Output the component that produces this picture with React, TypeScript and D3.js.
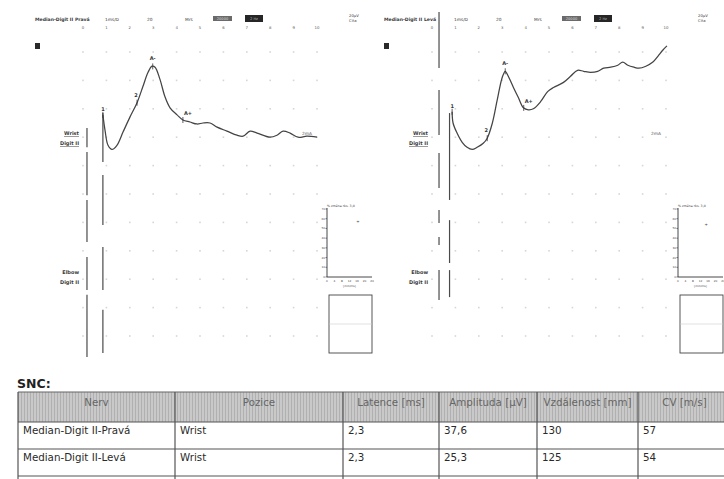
import React from "react";
import * as d3 from "d3";

// Sweep settings: 1 ms per division horizontally, 20 µV per division vertically
const timeTicks = d3.range(0, 11);
const gridRows = d3.range(0, 11);

// Wrist-stimulated sensory responses, [ms, µV]
const pravaWrist: [number, number][] = [
  [0.85, 15.7], [0.94, 5.0], [1.07, -5.7], [1.24, -8.6], [1.45, -5.7], [1.71, 3.6],
  [2.01, 14.3], [2.31, 24.3], [2.56, 35.7], [2.78, 45.7], [2.95, 50.0], [3.08, 49.3],
  [3.29, 40.7], [3.5, 28.6], [3.72, 20.7], [4.02, 15.7], [4.27, 12.1], [4.57, 10.7],
  [4.87, 9.3], [5.13, 10.0], [5.43, 10.0], [5.73, 7.1], [6.15, 4.3], [6.58, 1.4],
  [6.84, 0.7], [7.14, 4.3], [7.44, 2.9], [7.99, 0], [8.29, 1.4], [8.55, 4.3],
  [8.85, 2.9], [9.19, 0], [9.57, 0.7], [10.0, 0],
];
const levaWrist: [number, number][] = [
  [0.86, 17.9], [0.9, 10.0], [1.07, 2.9], [1.29, -3.6], [1.5, -7.1], [1.72, -8.6],
  [1.93, -7.1], [2.19, -4.3], [2.36, -0.7], [2.58, 10.0], [2.79, 26.4], [3.0, 42.1],
  [3.13, 46.4], [3.26, 42.9], [3.48, 35.0], [3.69, 27.9], [3.91, 20.7], [4.12, 19.3],
  [4.33, 20.0], [4.64, 25.0], [4.94, 32.1], [5.19, 35.0], [5.62, 38.6], [5.92, 42.9],
  [6.22, 47.1], [6.48, 46.4], [6.78, 45.7], [7.08, 46.4], [7.34, 48.6], [7.64, 49.3],
  [7.94, 50.7], [8.15, 52.9], [8.37, 50.7], [8.63, 49.3], [8.84, 48.6], [9.14, 50.0],
  [9.44, 52.9], [9.66, 57.1], [9.87, 61.4], [10.04, 64.3],
];

// Cursor markers placed on each response (ms)
const pravaMarkerLabels = ["1", "2", "A-", "A+"];
const pravaMarkerTimes = [0.85, 2.31, 2.98, 4.27];
const levaMarkerLabels = ["1", "2", "A-", "A+"];
const levaMarkerTimes = [0.86, 2.36, 3.13, 3.92];

// Stimulus artifact traces: time (ms) and visible stretches in grid divisions
const pravaArtifactTimes = [0.17, 0.85];
const pravaArtifactRuns: [number, number][][] = [
  [[2.68, 3.35], [3.52, 5.04], [5.21, 6.69], [7.22, 8.38], [8.55, 10.74]],
  [[2.15, 3.87], [4.33, 6.09], [6.87, 8.38], [9.08, 10.6]],
];
const levaArtifactTimes = [0.3, 0.75];
const levaArtifactRuns: [number, number][][] = [
  [[-1.41, 0.56], [1.34, 2.92], [3.56, 4.79], [5.56, 6.02], [6.51, 6.8], [7.68, 8.73]],
  [[2.15, 5.21], [5.92, 7.43], [7.68, 8.63]],
];

// Table
const tableColumns = ["Nerv", "Pozice", "Latence [ms]", "Amplituda [µV]", "Vzdálenost [mm]", "CV [m/s]"];
const nerves = ["Median-Digit II-Pravá", "Median-Digit II-Levá"];
const positions = ["Wrist", "Wrist"];
const latencies = [2.3, 2.3];
const amplitudes = [37.6, 25.3];
const distances = [130, 125];
const velocities = [57, 54];

// Inset trend plot (CV per side)
const insetXTicks = [0, 4, 8, 12, 16, 20, 24];
const insetYTicks = [0, 10, 20, 30, 40, 50, 60, 70];
const insetXValues = [16.5, 15];

const czech = d3.formatLocale({ decimal: ",", thousands: " ", grouping: [3], currency: ["", " Kč"] });
const fmt1 = czech.format(".1f");
const fmt0 = czech.format("d");

const FONT = "'DejaVu Sans', Verdana, sans-serif";
const INK = "#3a3a3a";

function valueAt(trace: [number, number][], t: number) {
  const i = d3.bisector((d: [number, number]) => d[0]).left(trace, t);
  if (i <= 0) return trace[0][1];
  if (i >= trace.length) return trace[trace.length - 1][1];
  const a = trace[i - 1], b = trace[i];
  return d3.interpolateNumber(a[1], b[1])((t - a[0]) / (b[0] - a[0]));
}

type PanelProps = {
  dx: number;
  insetLeft: number;
  title: string;
  trace: [number, number][];
  markerLabels: string[];
  markerTimes: number[];
  artifactTimes: number[];
  artifactRuns: [number, number][][];
  cv: number;
  cvX: number;
};

function Panel(p: PanelProps) {
  const x = d3.scaleLinear().domain([0, 10]).range([83 + p.dx, 317 + p.dx]);
  const row = d3.scaleLinear().domain([0, 10]).range([52, 336]);
  const amp = d3.scaleLinear().domain([0, 20]).range([row(3), row(2)]);
  const line = d3
    .line<[number, number]>()
    .x((d) => x(d[0]))
    .y((d) => amp(d[1]))
    .curve(d3.curveCatmullRom.alpha(0.5));

  const ix = d3.scaleLinear().domain([0, 24]).range([p.insetLeft, p.insetLeft + 45]);
  const iy = d3.scaleLinear().domain([0, 70]).range([277, 209]);

  const markerOffsets: Record<string, [number, number, string]> = {
    "1": [0, -4, "middle"],
    "2": [-1, -6, "middle"],
    "A-": [0, -6, "middle"],
    "A+": [1, -5, "start"],
  };

  return (
    <g>
      {/* header strip */}
      <text x={35 + p.dx} y={21} fontSize={4.6} fontWeight="bold" fill={INK} fontFamily={FONT}>{p.title}</text>
      <text x={105 + p.dx} y={21} fontSize={4.3} fill={INK} fontFamily={FONT}>1ms/D</text>
      <text x={147 + p.dx} y={21} fontSize={4.3} fill={INK} fontFamily={FONT}>20</text>
      <text x={185 + p.dx} y={21} fontSize={4.3} fill={INK} fontFamily={FONT}>Mrs</text>
      <rect x={213 + p.dx} y={16} width={19} height={5} fill="#6a6a6a" />
      <text x={222.5 + p.dx} y={20.2} fontSize={3.6} fill="#ddd" textAnchor="middle" fontFamily={FONT}>20000</text>
      <rect x={245 + p.dx} y={15} width={18} height={7} fill="#262626" />
      <text x={254 + p.dx} y={20} fontSize={3.6} fill="#bbb" textAnchor="middle" fontFamily={FONT}>2 Hz</text>
      <text x={349 + p.dx} y={17} fontSize={3.8} fill={INK} fontFamily={FONT}>20µV</text>
      <text x={349 + p.dx} y={22} fontSize={3.8} fill={INK} fontFamily={FONT}>Cita</text>
      {timeTicks.map((t) => (
        <text key={t} x={x(t)} y={29} fontSize={3.8} fill="#555" textAnchor="middle" fontFamily={FONT}>{t}</text>
      ))}
      <rect x={35 + p.dx} y={43} width={5} height={6} fill="#2a2a2a" />

      {/* grid dots */}
      {gridRows.map((r) =>
        timeTicks.map((t) => (
          <rect key={`${r}-${t}`} x={x(t) - 0.8} y={row(r) - 0.8} width={1.6} height={1.6} fill="#d6d6d6" />
        ))
      )}

      {/* trace names */}
      <text x={79 + p.dx} y={135} fontSize={5} fontWeight="bold" fill={INK} textAnchor="end" textDecoration="underline" fontFamily={FONT}>Wrist</text>
      <text x={79 + p.dx} y={145} fontSize={5} fontWeight="bold" fill={INK} textAnchor="end" textDecoration="underline" fontFamily={FONT}>Digit II</text>
      <text x={79 + p.dx} y={274} fontSize={5} fontWeight="bold" fill={INK} textAnchor="end" fontFamily={FONT}>Elbow</text>
      <text x={79 + p.dx} y={284} fontSize={5} fontWeight="bold" fill={INK} textAnchor="end" fontFamily={FONT}>Digit II</text>

      {/* stimulus artifacts */}
      {p.artifactTimes.map((t, i) =>
        p.artifactRuns[i].map((run, j) => (
          <line key={`${i}-${j}`} x1={x(t)} x2={x(t)} y1={row(run[0])} y2={row(run[1])} stroke="#4a4a4a" strokeWidth={1.2} />
        ))
      )}

      {/* response */}
      <path d={line(p.trace) || ""} fill="none" stroke="#444" strokeWidth={1.25} />
      {p.markerLabels.map((lab, i) => {
        const t = p.markerTimes[i];
        const cx = x(t);
        const cy = amp(valueAt(p.trace, t));
        const [ox, oy, anchor] = markerOffsets[lab];
        return (
          <g key={lab}>
            <line x1={cx} x2={cx} y1={cy - 3} y2={cy + 3} stroke="#333" strokeWidth={0.8} />
            <text x={cx + ox} y={cy + oy} fontSize={5} fontWeight="bold" fill="#333" textAnchor={anchor} fontFamily={FONT}>{lab}</text>
          </g>
        );
      })}
      <text x={302 + p.dx} y={135} fontSize={4.3} fill="#555" fontFamily={FONT}>2mA</text>

      {/* inset trend */}
      <text x={ix(0)} y={207} fontSize={3.2} fill={INK} fontFamily={FONT}>% změna rks. 3,0</text>
      <line x1={ix(0)} x2={ix(0)} y1={iy(70) - 1} y2={iy(0)} stroke="#333" strokeWidth={0.9} />
      <line x1={ix(0)} x2={ix(24)} y1={iy(0)} y2={iy(0)} stroke="#333" strokeWidth={0.9} />
      {insetYTicks.map((v) => (
        <g key={v}>
          <line x1={ix(0) - 1.5} x2={ix(0)} y1={iy(v)} y2={iy(v)} stroke="#333" strokeWidth={0.6} />
          <text x={ix(0) - 2} y={iy(v) + 1} fontSize={2.8} fill="#444" textAnchor="end" fontFamily={FONT}>{v}</text>
        </g>
      ))}
      {insetXTicks.map((v) => (
        <text key={v} x={ix(v)} y={iy(0) + 5} fontSize={2.8} fill="#444" textAnchor="middle" fontFamily={FONT}>{v}</text>
      ))}
      <text x={ix(12)} y={iy(0) + 10} fontSize={2.8} fill="#444" textAnchor="middle" fontFamily={FONT}>[mm/ms]</text>
      <text x={ix(p.cvX)} y={iy(p.cv) + 1.2} fontSize={4} fill="#444" textAnchor="middle" fontFamily={FONT}>+</text>
      <rect x={ix(0) + 2} y={295} width={43} height={58} fill="none" stroke="#444" strokeWidth={0.9} />
      <line x1={ix(0) + 2} x2={ix(0) + 45} y1={324} y2={324} stroke="#ccc" strokeWidth={0.6} />
    </g>
  );
}

function Table() {
  const edges = [18, 175, 343, 439, 537, 638, 731];
  const headTop = 392, headBottom = 422, rowH = 27;
  const rows = nerves.map((n, i) => [
    n,
    positions[i],
    fmt1(latencies[i]),
    fmt1(amplitudes[i]),
    fmt0(distances[i]),
    fmt0(velocities[i]),
  ]);
  const bottom = headBottom + rowH * rows.length + 10;
  return (
    <g fontFamily={FONT}>
      <defs>
        <pattern id="headHatch" width={3} height={3} patternUnits="userSpaceOnUse">
          <rect width={3} height={3} fill="#c9c9c9" />
          <line x1={0.5} x2={0.5} y1={0} y2={3} stroke="#b0b0b0" strokeWidth={1} />
        </pattern>
      </defs>
      <text x={17} y={388} fontSize={12.5} fontWeight="bold" fill="#222">SNC:</text>
      <rect x={edges[0]} y={headTop} width={edges[6] - edges[0]} height={headBottom - headTop} fill="url(#headHatch)" />
      {tableColumns.map((c, i) => (
        <text key={c} x={(edges[i] + edges[i + 1]) / 2} y={406} fontSize={10.3} fill="#666" textAnchor="middle">{c}</text>
      ))}
      {rows.map((r, ri) =>
        r.map((v, ci) => (
          <text key={`${ri}-${ci}`} x={edges[ci] + 5} y={headBottom + 12 + ri * rowH} fontSize={10.3} fill="#2a2a2a">{v}</text>
        ))
      )}
      {/* rules */}
      <line x1={edges[0]} x2={edges[6]} y1={headTop} y2={headTop} stroke="#666" strokeWidth={1.2} />
      {d3.range(rows.length + 1).map((k) => (
        <line key={k} x1={edges[0]} x2={edges[6]} y1={headBottom + k * rowH} y2={headBottom + k * rowH} stroke="#555" strokeWidth={1.2} />
      ))}
      {edges.map((e, i) => (
        <line key={i} x1={e} x2={e} y1={headTop} y2={bottom} stroke="#555" strokeWidth={1.2} />
      ))}
    </g>
  );
}

export default function App() {
  return (
    <svg width={724} height={479} style={{ position: "absolute", left: 0, top: 0, background: "#fff" }}>
      <rect width={724} height={479} fill="#fff" />
      <Panel
        dx={0}
        insetLeft={327}
        title="Median-Digit II Pravá"
        trace={pravaWrist}
        markerLabels={pravaMarkerLabels}
        markerTimes={pravaMarkerTimes}
        artifactTimes={pravaArtifactTimes}
        artifactRuns={pravaArtifactRuns}
        cv={velocities[0]}
        cvX={insetXValues[0]}
      />
      <Panel
        dx={349}
        insetLeft={678}
        title="Median-Digit II Levá"
        trace={levaWrist}
        markerLabels={levaMarkerLabels}
        markerTimes={levaMarkerTimes}
        artifactTimes={levaArtifactTimes}
        artifactRuns={levaArtifactRuns}
        cv={velocities[1]}
        cvX={insetXValues[1]}
      />
      <Table />
    </svg>
  );
}
